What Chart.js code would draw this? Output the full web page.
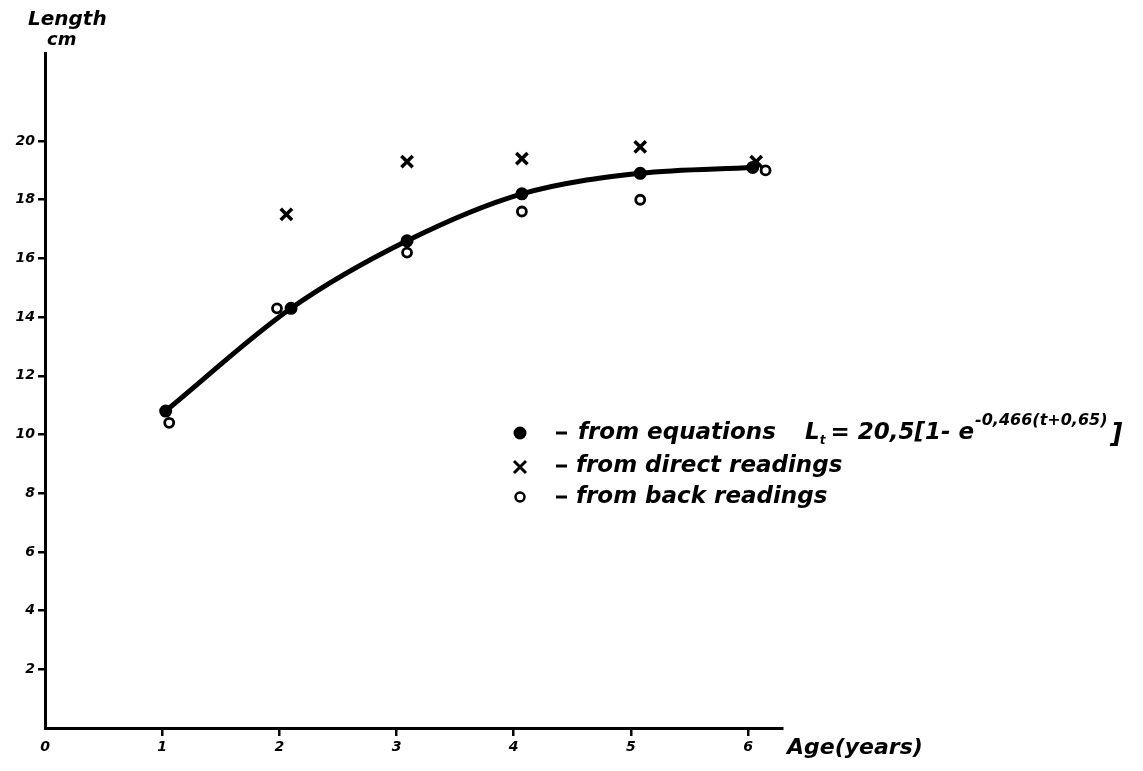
<!DOCTYPE html>
<html>
<head>
<meta charset="utf-8">
<script src="https://cdn.jsdelivr.net/npm/chart.js@4.4.1/dist/chart.umd.min.js"></script>
<style>
  html, body { margin: 0; padding: 0; background: #fff; }
  #wrap { width: 1143px; height: 771px; position: relative; }
</style>
</head>
<body>
<div id="wrap"><canvas id="growthChart"></canvas></div>
<script>
// values (age in years, length in cm)
const eqAge = [1.03, 2.10, 3.09, 4.07, 5.08, 6.04]
const eqLength = [10.8, 14.3, 16.6, 18.2, 18.9, 19.1]

const directAge = [2.06, 3.09, 4.07, 5.08, 6.07]
const directLength = [17.5, 19.3, 19.4, 19.8, 19.3]

const backAge = [1.06, 1.98, 3.09, 4.07, 5.08, 6.15]
const backLength = [10.4, 14.3, 16.2, 17.6, 18.0, 19.0]

const xTicks = [0, 1, 2, 3, 4, 5, 6]
const yTicks = [2, 4, 6, 8, 10, 12, 14, 16, 18, 20]

const toPoints = (xs, ys) => xs.map((x, i) => ({ x: x, y: ys[i] }))

const tickFont = { family: '"DejaVu Sans"', style: 'italic', weight: 'bold', size: 14 }
const handFont = '"DejaVu Sans"'

// hand-lettered texts: axis captions and the key
const paperText = {
  id: 'paperText',
  afterDraw(chart) {
    const c = chart.ctx
    c.save()
    c.fillStyle = '#000'
    c.strokeStyle = '#000'
    c.textBaseline = 'middle'
    c.textAlign = 'left'

    c.font = 'italic bold 20px ' + handFont
    c.fillText('Length', 28, 20)
    c.font = 'italic bold 18px ' + handFont
    c.fillText('cm', 47, 40)

    c.font = 'italic bold 22px ' + handFont
    c.fillText('Age(years)', 787, 748)

    // key symbols
    c.beginPath()
    c.arc(520, 433, 6.5, 0, Math.PI * 2)
    c.fill()

    c.lineWidth = 3
    c.beginPath()
    c.moveTo(514, 461); c.lineTo(526, 473)
    c.moveTo(526, 461); c.lineTo(514, 473)
    c.stroke()

    c.lineWidth = 2.5
    c.beginPath()
    c.arc(520, 497, 4.5, 0, Math.PI * 2)
    c.stroke()

    c.lineWidth = 3
    ;[433, 466, 497].forEach(y => {
      c.beginPath()
      c.moveTo(556, y); c.lineTo(567, y)
      c.stroke()
    })

    c.font = 'italic bold 23px ' + handFont
    c.fillText('from equations', 578, 433)
    c.fillText('from direct readings', 576, 466)
    c.fillText('from back readings', 576, 497)

    // L_t = 20,5[1- e^(-0,466(t+0,65))]
    let x = 805
    c.fillText('L', x, 433)
    x += c.measureText('L').width
    c.font = 'italic bold 12px ' + handFont
    c.fillText('t', x, 441)
    x += c.measureText('t').width + 5
    c.font = 'italic bold 23px ' + handFont
    const mid = '= 20,5[1- e'
    c.fillText(mid, x, 433)
    x += c.measureText(mid).width + 1
    c.font = 'italic bold 16px ' + handFont
    const sup = '-0,466(t+0,65)'
    c.fillText(sup, x, 421)
    x += c.measureText(sup).width + 3
    c.font = 'italic bold 26px ' + handFont
    c.fillText(']', x, 435)

    c.restore()
  }
}

const ctx = document.getElementById('growthChart')

new Chart(ctx, {
  type: 'scatter',
  data: {
    datasets: [
      {
        label: 'from equations',
        data: toPoints(eqAge, eqLength),
        showLine: true,
        cubicInterpolationMode: 'monotone',
        borderColor: '#000',
        backgroundColor: '#000',
        borderWidth: 5,
        pointRadius: 4,
        pointStyle: 'circle',
        order: 3,
      },
      {
        label: 'from direct readings',
        data: toPoints(directAge, directLength),
        showLine: false,
        borderColor: '#000',
        backgroundColor: '#000',
        pointStyle: 'crossRot',
        pointRadius: 8,
        pointBorderWidth: 3.5,
        order: 1,
      },
      {
        label: 'from back readings',
        data: toPoints(backAge, backLength),
        showLine: false,
        borderColor: '#000',
        backgroundColor: '#fff',
        pointStyle: 'circle',
        pointRadius: 4.5,
        pointBorderWidth: 2.8,
        order: 2,
      },
    ],
  },
  options: {
    responsive: true,
    maintainAspectRatio: false,
    animation: false,
    layout: { padding: { top: 53, right: 361, left: 0, bottom: 0 } },
    plugins: {
      legend: { display: false },
      tooltip: { enabled: false },
    },
    scales: {
      x: {
        type: 'linear',
        min: 0,
        max: 6.29,
        afterFit: scale => { scale.height = 43 },
        afterBuildTicks: scale => { scale.ticks = xTicks.map(v => ({ value: v })) },
        border: { color: '#000', width: 3 },
        grid: {
          drawOnChartArea: false,
          tickLength: 8,
          lineWidth: 2.5,
          color: c => (c.tick && c.tick.value === 0 ? 'rgba(0,0,0,0)' : '#000'),
        },
        ticks: { color: '#000', font: tickFont, padding: 3, autoSkip: false, maxRotation: 0 },
      },
      y: {
        type: 'linear',
        min: 0,
        max: 23,
        afterFit: scale => { scale.width = 45 },
        afterBuildTicks: scale => { scale.ticks = yTicks.map(v => ({ value: v })) },
        border: { color: '#000', width: 3 },
        grid: { drawOnChartArea: false, tickLength: 7, lineWidth: 2.5, color: '#000' },
        ticks: { color: '#000', font: tickFont, padding: 3, autoSkip: false },
      },
    },
  },
  plugins: [paperText],
})
</script>
</body>
</html>
